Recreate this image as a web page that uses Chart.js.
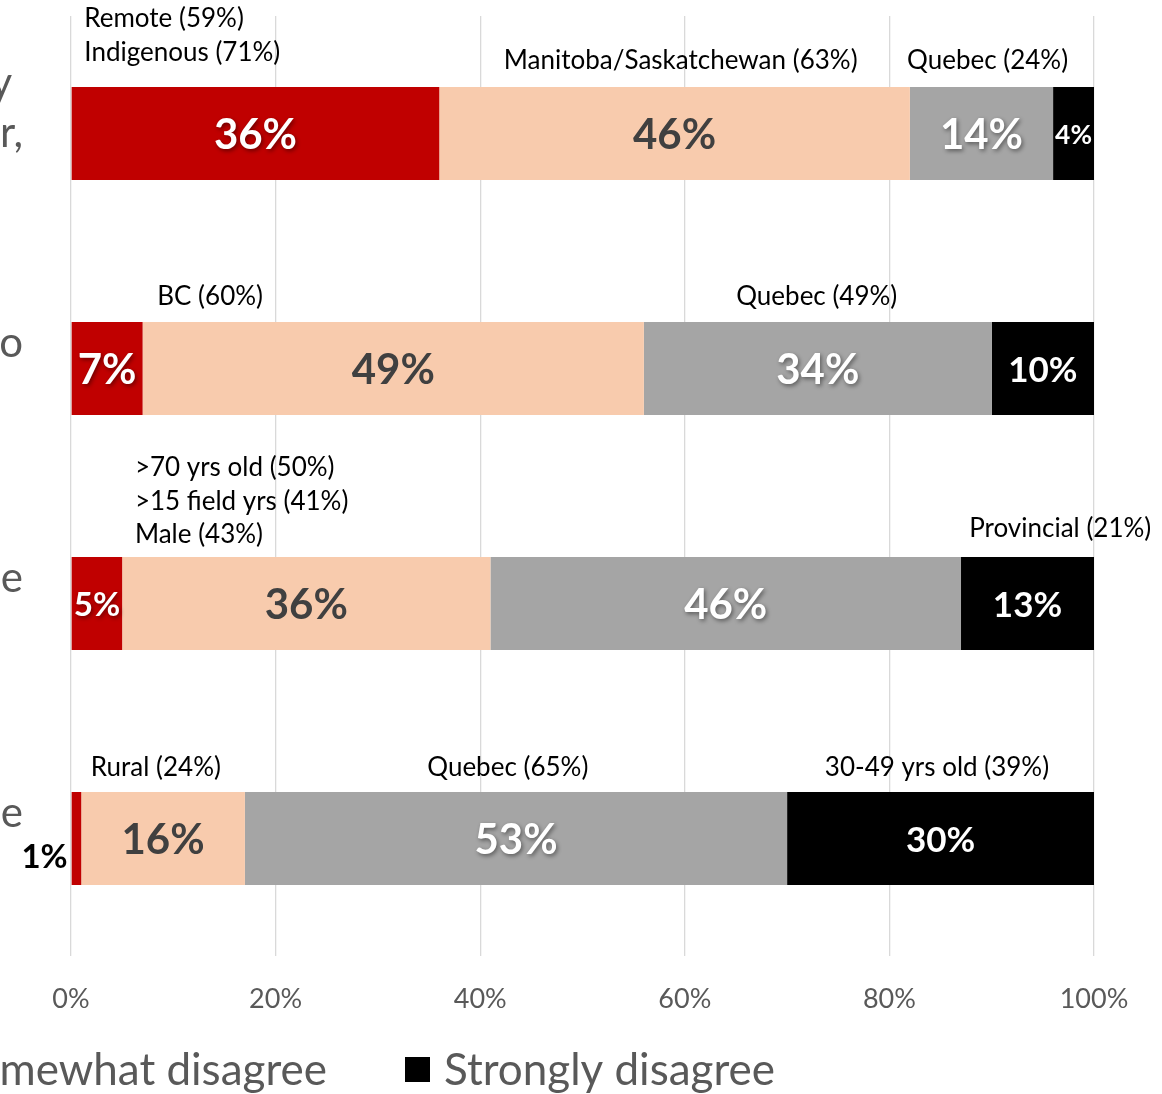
<!DOCTYPE html>
<html><head><meta charset="utf-8">
<script src="https://cdn.jsdelivr.net/npm/chart.js@4"></script>
<style>
html,body{margin:0;padding:0;background:#fff;overflow:hidden}
canvas{display:block}
</style></head>
<body>
<canvas id="c" width="1162" height="1094"></canvas>
<script>
// ---------- data ----------
const categories = [["y ", "r,", " "], ["o", " "], ["e", " "], ["e", " "]];
const seriesNames = ["Strongly agree", "Somewhat agree", "Somewhat disagree", "Strongly disagree"];
const stronglyAgree     = [36, 7, 5, 1];
const somewhatAgree     = [46, 49, 36, 16];
const somewhatDisagree  = [14, 34, 46, 53];
const stronglyDisagree  = [4, 10, 13, 30];
const xTickValues = [0, 20, 40, 60, 80, 100];
const calloutTexts = [
  ["Remote (59%)", "Indigenous (71%)"],
  ["Manitoba/Saskatchewan (63%)"],
  ["Quebec (24%)"],
  ["BC (60%)"],
  ["Quebec (49%)"],
  [">70 yrs old (50%)", ">15 field yrs (41%)", "Male (43%)"],
  ["Provincial (21%)"],
  ["Rural (24%)"],
  ["Quebec (65%)"],
  ["30-49 yrs old (39%)"]
];
const calloutRows = [0, 0, 0, 1, 1, 2, 2, 3, 3, 3];

// ---------- styles / layout ----------
const FONT = 'Lato';
const colors = ['#C00000', '#F8CBAD', '#A5A5A5', '#000000'];
const labelStyle = [
  {color: '#FFFFFF', size: 42, shadow: true},
  {color: '#404040', size: 42, shadow: false},
  {color: '#FFFFFF', size: 42, shadow: true},
  {color: '#FFFFFF', size: 35, shadow: false}
];
const calloutLayout = [
  {at: 1.3,  align: 'left',   dy: -68},
  {at: 59.6, align: 'center', dy: -26},
  {at: 89.6, align: 'center', dy: -26},
  {at: 13.6, align: 'center', dy: -25},
  {at: 72.9, align: 'center', dy: -25},
  {at: 6.25, align: 'left',   dy: -89},
  {at: 96.7, align: 'center', dy: -28},
  {at: 8.3,  align: 'center', dy: -24},
  {at: 42.7, align: 'center', dy: -24},
  {at: 84.65,align: 'center', dy: -24}
];
const CALLOUT = {size: 26, lineHeight: 33.5, color: '#000000'};
const LEG = {size: 44, box: 25, textGap: 14, itemGap: 78, lastBoxX: 405, cy: 1069.5, color: '#595959'};

const seriesValues = [stronglyAgree, somewhatAgree, somewhatDisagree, stronglyDisagree];

const segLabels = {
  id: 'segLabels',
  afterDatasetsDraw(chart) {
    const ctx = chart.ctx;
    chart.data.datasets.forEach((ds, di) => {
      const meta = chart.getDatasetMeta(di);
      meta.data.forEach((bar, j) => {
        const p = bar.getProps(['x', 'y', 'base', 'height'], true);
        const text = ds.data[j] + '%';
        const left = Math.min(p.x, p.base), right = Math.max(p.x, p.base);
        const w = right - left;
        const st = labelStyle[di];
        ctx.save();
        ctx.textBaseline = 'middle';
        if (w < 20) {
          ctx.font = `700 33px ${FONT}`;
          ctx.fillStyle = '#000000';
          ctx.textAlign = 'right';
          ctx.fillText(text, left - 4, p.y + 19);
        } else {
          let size = st.size;
          ctx.font = `700 ${size}px ${FONT}`;
          const tw = ctx.measureText(text).width;
          if (tw > w - 4) {
            size = size * (w - 4) / tw;
            ctx.font = `700 ${size}px ${FONT}`;
          }
          ctx.textAlign = 'center';
          ctx.fillStyle = st.color;
          if (st.shadow) {
            ctx.shadowColor = 'rgba(0,0,0,0.45)';
            ctx.shadowBlur = 4;
            ctx.shadowOffsetX = 1.5;
            ctx.shadowOffsetY = 1.5;
          }
          ctx.fillText(text, (left + right) / 2, p.y + 2);
        }
        ctx.restore();
      });
    });
  }
};

const callouts = {
  id: 'callouts',
  afterDraw(chart) {
    const ctx = chart.ctx;
    const xs = chart.scales.x;
    const meta = chart.getDatasetMeta(0);
    ctx.save();
    ctx.font = `400 ${CALLOUT.size}px ${FONT}`;
    ctx.fillStyle = CALLOUT.color;
    ctx.textBaseline = 'middle';
    calloutTexts.forEach((lines, k) => {
      const lay = calloutLayout[k];
      const bar = meta.data[calloutRows[k]].getProps(['y', 'height'], true);
      const top = bar.y - bar.height / 2;
      const x = xs.getPixelForValue(lay.at);
      ctx.textAlign = lay.align;
      lines.forEach((ln, i) => {
        ctx.fillText(ln, x, top + lay.dy + i * CALLOUT.lineHeight);
      });
    });
    ctx.restore();
  }
};

const legendPlugin = {
  id: 'bottomLegend',
  afterDraw(chart) {
    const ctx = chart.ctx;
    ctx.save();
    ctx.font = `400 ${LEG.size}px ${FONT}`;
    ctx.textBaseline = 'middle';
    const ds = chart.data.datasets;
    const pos = [];
    let x = LEG.lastBoxX;
    for (let i = ds.length - 1; i >= 0; i--) {
      pos[i] = x;
      if (i > 0) x = x - LEG.itemGap - ctx.measureText(ds[i - 1].label).width - LEG.box - LEG.textGap;
    }
    ds.forEach((d, i) => {
      ctx.fillStyle = d.backgroundColor;
      ctx.fillRect(pos[i], LEG.cy - LEG.box / 2, LEG.box, LEG.box);
      ctx.fillStyle = LEG.color;
      ctx.textAlign = 'left';
      ctx.fillText(d.label, pos[i] + LEG.box + LEG.textGap, LEG.cy + 1);
    });
    ctx.restore();
  }
};

function build() {
  Chart.defaults.font.family = FONT;
  new Chart(document.getElementById('c'), {
    type: 'bar',
    data: {
      labels: categories,
      datasets: seriesNames.map((name, i) => ({
        label: name,
        data: seriesValues[i],
        backgroundColor: colors[i],
        borderWidth: 0,
        barPercentage: 0.396,
        categoryPercentage: 1.0
      }))
    },
    options: {
      indexAxis: 'y',
      responsive: false,
      animation: false,
      devicePixelRatio: 1,
      layout: {padding: {top: 16, right: 68, left: 0, bottom: 0}},
      plugins: {legend: {display: false}, tooltip: {enabled: false}},
      scales: {
        x: {
          stacked: true,
          min: 0, max: 100,
          afterBuildTicks: (s) => { s.ticks = xTickValues.map(v => ({value: v})); },
          afterFit: (s) => { s.height = 138; s.paddingLeft = 0; s.paddingRight = 0; },
          grid: {color: '#D9D9D9', lineWidth: 1.3, drawTicks: false},
          border: {display: false},
          ticks: {
            padding: 27,
            color: '#595959',
            font: {size: 27, family: FONT},
            callback: (v) => v + '%'
          }
        },
        y: {
          stacked: true,
          afterFit: (s) => { s.width = 71; s.paddingTop = 0; s.paddingBottom = 0; },
          grid: {display: false, drawTicks: false},
          border: {display: false},
          ticks: {
            padding: 48,
            color: '#595959',
            font: {size: 42, family: FONT, lineHeight: '50px'}
          }
        }
      }
    },
    plugins: [segLabels, callouts, legendPlugin]
  });
}
const fontLoads = [`400 24px ${FONT}`, `700 42px ${FONT}`].map(f => document.fonts ? document.fonts.load(f).catch(() => null) : null);
Promise.all(fontLoads).then(build, build);
</script>
</body></html>
